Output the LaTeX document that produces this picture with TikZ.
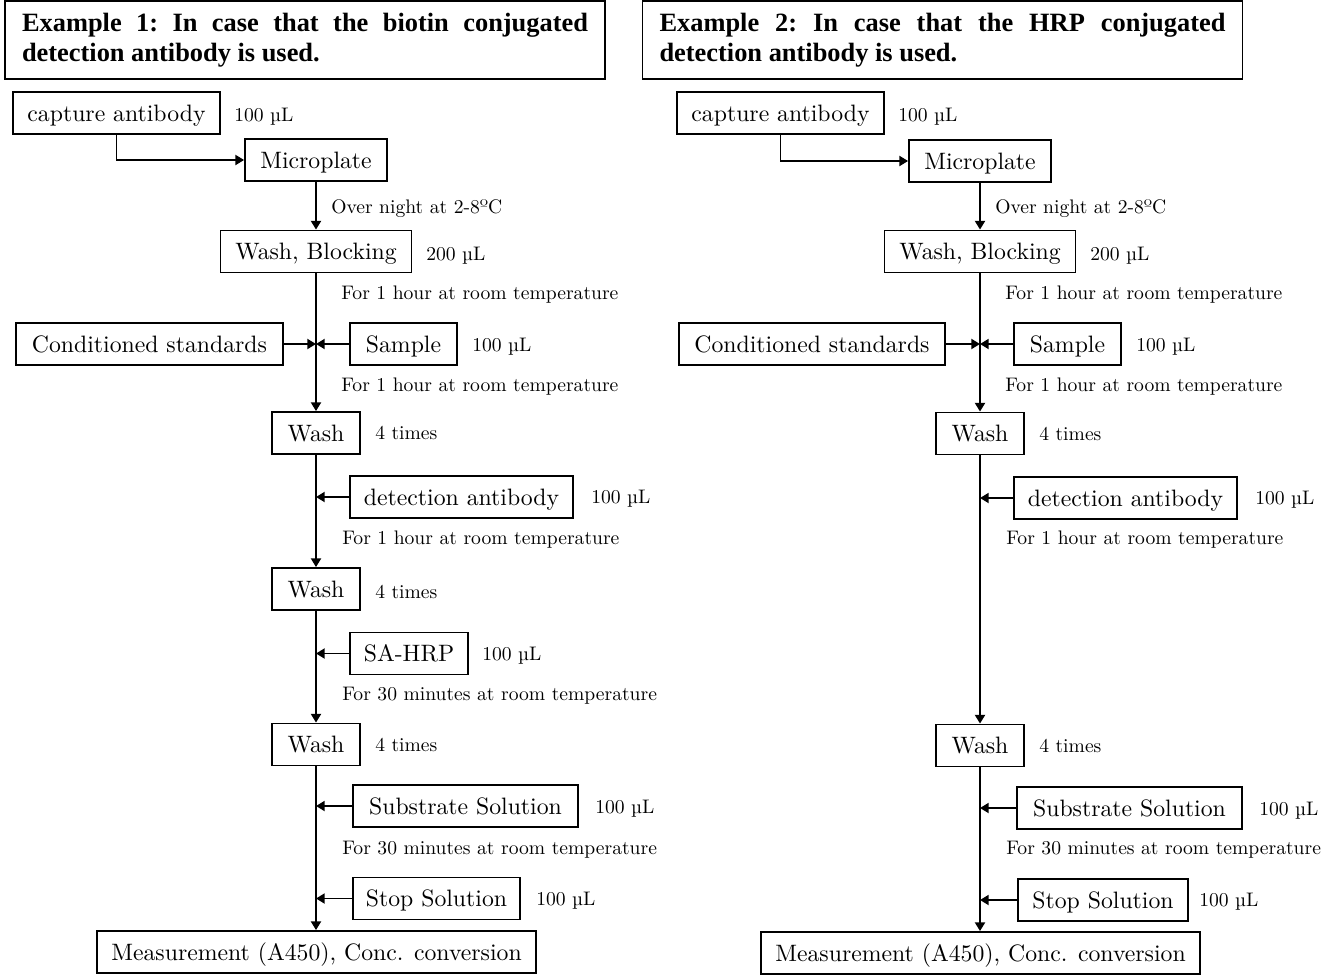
\documentclass[tikz,border=0pt]{standalone}
\usepackage{fontspec}
\newfontfamily\titlefont{Liberation Serif}
\newfontfamily\bodyfont{lmroman10-regular.otf}
\newcommand\titlesetup{\fontsize{19.8}{22.5}\titlefont\bfseries\frenchspacing\hyphenpenalty=10000\relax\exhyphenpenalty=10000\relax\tolerance=9999\relax}
\usetikzlibrary{arrows.meta}
\begin{document}
\begin{tikzpicture}[x=0.75pt,y=-0.75pt,
  box/.style={draw, line width=1.4pt, minimum height=31.5pt, inner sep=0pt,
    font=\fontsize{17.8}{20}\bodyfont, text height=12.5pt, text depth=0pt},
  bw/.style={minimum width=#1*0.75pt},
  titlebox/.style={draw, line width=1.4pt, minimum height=58.5pt, inner xsep=12.75pt,
    text width=424.5pt, align=justify, font=\titlesetup},
  lab/.style={anchor=base west, inner sep=0pt, font=\fontsize{14.7}{17}\bodyfont},
  arr/.style={line width=1.4pt, -{Triangle[length=6.5pt,width=7.5pt]}}]
\useasboundingbox (0,0) rectangle (1337,974);

% ---------- Example 1 ----------
\node[titlebox] (t1) at (305,40) {Example 1: In case that the biotin conjugated detection antibody is used.};
\node[box,bw=207] (cap1) at (116.5,113) {capture antibody};
\node[box,bw=142] (mp1) at (316,160) {Microplate};
\node[box,bw=191] (blk1) at (316,251.5) {Wash, Blocking};
\node[box,bw=267] (cs1) at (149.5,344) {Conditioned standards};
\node[box,bw=107] (sa1) at (403.5,344) {Sample};
\node[box,bw=88] (wa1) at (316,433) {Wash};
\node[box,bw=223] (da1) at (461.5,497) {detection antibody};
\node[box,bw=88] (wb1) at (316,589) {Wash};
\node[box,bw=118] (sh1) at (409,653.5) {SA-HRP};
\node[box,bw=88] (wc1) at (316,744.5) {Wash};
\node[box,bw=225] (ss1) at (465.5,806) {Substrate Solution};
\node[box,bw=167] (st1) at (436.5,898.5) {Stop Solution};
\node[box,bw=439] (me1) at (316.5,952) {Measurement (A450), Conc. conversion};

\node[lab] (l1a) at (234,121) {100 µL};
\node[lab] (l1b) at (331,213) {Over night at 2-8ºC};
\node[lab] (l1c) at (426,260) {200 µL};
\node[lab] (l1d) at (341,299) {For 1 hour at room temperature};
\node[lab] (l1e) at (472,351) {100 µL};
\node[lab] (l1f) at (341,391) {For 1 hour at room temperature};
\node[lab] (l1g) at (375,439) {4 times};
\node[lab] (l1h) at (591,503) {100 µL};
\node[lab] (l1i) at (342,544) {For 1 hour at room temperature};
\node[lab] (l1j) at (375,598) {4 times};
\node[lab] (l1k) at (482,660) {100 µL};
\node[lab] (l1l) at (342,700) {For 30 minutes at room temperature};
\node[lab] (l1m) at (375,751) {4 times};
\node[lab] (l1n) at (595,813) {100 µL};
\node[lab] (l1o) at (342,854) {For 30 minutes at room temperature};
\node[lab] (l1p) at (536,905) {100 µL};

\draw[arr] (cap1.south) |- (mp1.west);
\draw[arr] (mp1.south) -- (blk1.north);
\draw[arr] (blk1.south) -- (wa1.north);
\draw[arr] (cs1.east) -- (cs1.east -| blk1.south);
\draw[arr] (sa1.west) -- (sa1.west -| blk1.south);
\draw[arr] (wa1.south) -- (wb1.north);
\draw[arr] (da1.west) -- (da1.west -| wa1.south);
\draw[arr] (wb1.south) -- (wc1.north);
\draw[arr] (sh1.west) -- (sh1.west -| wb1.south);
\draw[arr] (wc1.south) -- (wc1.south |- me1.north);
\draw[arr] (ss1.west) -- (ss1.west -| wc1.south);
\draw[arr] (st1.west) -- (st1.west -| wc1.south);

% ---------- Example 2 ----------
\node[titlebox] (t2) at (942.5,40) {Example 2: In case that the HRP conjugated detection antibody is used.};
\node[box,bw=207] (cap2) at (780.5,113) {capture antibody};
\node[box,bw=142] (mp2) at (980,161) {Microplate};
\node[box,bw=191] (blk2) at (980,251.5) {Wash, Blocking};
\node[box,bw=266] (cs2) at (812,344) {Conditioned standards};
\node[box,bw=107] (sa2) at (1067.5,344) {Sample};
\node[box,bw=88] (wa2) at (980,433.5) {Wash};
\node[box,bw=223] (da2) at (1125.5,498) {detection antibody};
\node[box,bw=88] (wc2) at (980,745.5) {Wash};
\node[box,bw=225] (ss2) at (1129.5,808) {Substrate Solution};
\node[box,bw=170] (st2) at (1103,900) {Stop Solution};
\node[box,bw=439] (me2) at (980.5,953) {Measurement (A450), Conc. conversion};

\node[lab] (l2a) at (898,121) {100 µL};
\node[lab] (l2b) at (995,213) {Over night at 2-8ºC};
\node[lab] (l2c) at (1090,260) {200 µL};
\node[lab] (l2d) at (1005,299) {For 1 hour at room temperature};
\node[lab] (l2e) at (1136,351) {100 µL};
\node[lab] (l2f) at (1005,391) {For 1 hour at room temperature};
\node[lab] (l2g) at (1039,440) {4 times};
\node[lab] (l2h) at (1255,504) {100 µL};
\node[lab] (l2i) at (1006,544) {For 1 hour at room temperature};
\node[lab] (l2j) at (1039,752) {4 times};
\node[lab] (l2k) at (1259,815) {100 µL};
\node[lab] (l2l) at (1006,854) {For 30 minutes at room temperature};
\node[lab] (l2m) at (1199,906) {100 µL};

\draw[arr] (cap2.south) |- (mp2.west);
\draw[arr] (mp2.south) -- (blk2.north);
\draw[arr] (blk2.south) -- (wa2.north);
\draw[arr] (cs2.east) -- (cs2.east -| blk2.south);
\draw[arr] (sa2.west) -- (sa2.west -| blk2.south);
\draw[arr] (wa2.south) -- (wc2.north);
\draw[arr] (da2.west) -- (da2.west -| wa2.south);
\draw[arr] (wc2.south) -- (wc2.south |- me2.north);
\draw[arr] (ss2.west) -- (ss2.west -| wc2.south);
\draw[arr] (st2.west) -- (st2.west -| wc2.south);
\end{tikzpicture}
\end{document}
